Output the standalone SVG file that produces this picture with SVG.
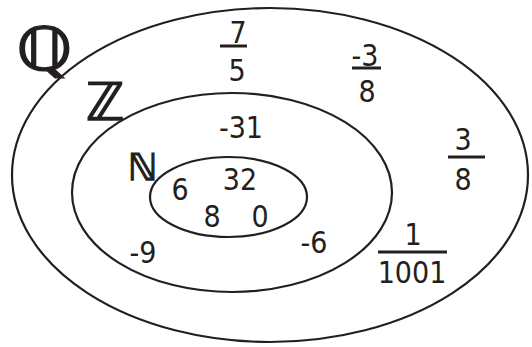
<svg xmlns="http://www.w3.org/2000/svg" width="532" height="347" viewBox="0 0 532 347">
<style>
.set{fill:none;stroke:#231f20;stroke-width:2.2}
.n{font-family:"DejaVu Sans Condensed","DejaVu Sans",sans-serif;font-stretch:condensed;font-size:30px;fill:#231f20;text-anchor:middle}
.Ls{font-family:"DejaVu Sans",sans-serif;fill:#231f20;stroke:#231f20;stroke-width:1.3}
.bar{stroke:#231f20;stroke-width:3}
</style>
<rect width="532" height="347" fill="#fff"/>
<g id="Q">
<ellipse class="set" cx="270" cy="175" rx="258" ry="167"/>
<text class="Ls" x="16" y="70" font-size="60" stroke-width="1.6" transform="translate(16 0) scale(1.2 1) translate(-16 0)">ℚ</text>
</g>
<g id="Z">
<ellipse class="set" cx="232" cy="192.5" rx="160" ry="99.5"/>
<text class="Ls" x="86" y="120" font-size="52">ℤ</text>
</g>
<g id="N">
<ellipse class="set" cx="228.5" cy="197" rx="78.5" ry="40"/>
<text class="Ls" x="128" y="180" font-size="37">ℕ</text>
</g>
<g id="numbers">
<text class="n" x="238" y="43">7</text>
<line class="bar" x1="220" y1="46" x2="247" y2="46"/>
<text class="n" x="237" y="81">5</text>
<text class="n" x="365" y="66">-3</text>
<line class="bar" x1="352" y1="68" x2="381" y2="68"/>
<text class="n" x="367" y="102">8</text>
<text class="n" x="463" y="150">3</text>
<line class="bar" x1="448" y1="157" x2="485" y2="157"/>
<text class="n" x="463" y="190">8</text>
<text class="n" x="413" y="245">1</text>
<line class="bar" x1="378" y1="252" x2="447" y2="252"/>
<text class="n" x="412" y="283">1001</text>
<text class="n" x="241" y="138">-31</text>
<text class="n" x="180" y="200">6</text>
<text class="n" x="240" y="190">32</text>
<text class="n" x="212" y="227">8</text>
<text class="n" x="260" y="227">0</text>
<text class="n" x="143" y="263">-9</text>
<text class="n" x="314" y="253">-6</text>
</g>
<g id="connectors"/>
</svg>
